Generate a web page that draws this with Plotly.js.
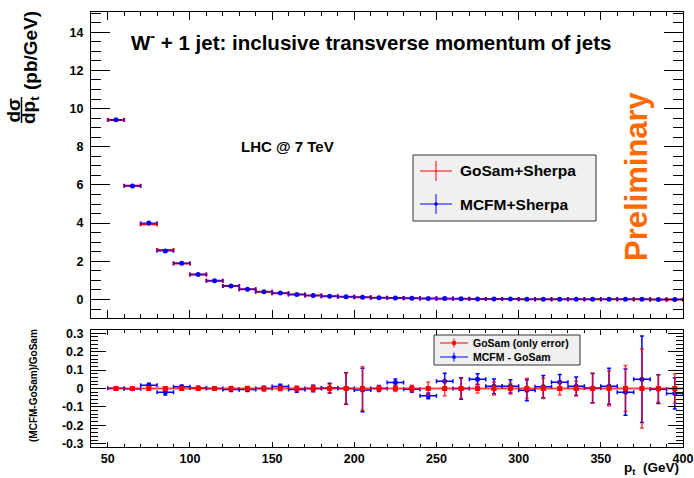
<!DOCTYPE html>
<html>
<head>
<meta charset="utf-8">
<script src="https://cdn.plot.ly/plotly-3.0.1.min.js"></script>
<style>html,body{margin:0;padding:0;background:#fff;}#chart{width:694px;height:478px;}</style>
</head>
<body>
<div id="chart"></div>
<script>
// ---- data ----
const ptBins = [55,65,75,85,95,105,115,125,135,145,155,165,175,185,195,205,215,225,235,245,255,265,275,285,295,305,315,325,335,345,355,365,375,385,395];
const gosamSherpa = [9.40,5.96,3.94,2.59,1.88,1.31,0.98,0.70,0.53,0.40,0.33,0.26,0.21,0.17,0.14,0.115,0.093,0.076,0.062,0.051,0.043,0.036,0.030,0.025,0.021,0.018,0.015,0.013,0.011,0.0094,0.0080,0.0068,0.0058,0.0050,0.0043];
const gosamSherpaErr = [0.03,0.03,0.08,0.04,0.02,0.015,0.012,0.01,0.008,0.006,0.005,0.004,0.004,0.004,0.012,0.014,0.002,0.002,0.002,0.002,0.002,0.002,0.001,0.001,0.001,0.001,0.001,0.001,0.001,0.001,0.001,0.001,0.001,0.001,0.001];
const mcfmSherpa = [9.41,5.95,4.01,2.54,1.90,1.31,0.98,0.70,0.53,0.40,0.334,0.26,0.21,0.17,0.14,0.114,0.093,0.078,0.062,0.049,0.045,0.036,0.0315,0.0253,0.0213,0.0178,0.0152,0.0134,0.0111,0.0094,0.0081,0.0067,0.0061,0.0050,0.0042];
const mcfmSherpaErr = [0.03,0.03,0.04,0.04,0.02,0.015,0.012,0.01,0.008,0.006,0.005,0.004,0.004,0.004,0.012,0.014,0.002,0.002,0.002,0.002,0.002,0.002,0.001,0.001,0.001,0.001,0.001,0.001,0.001,0.001,0.001,0.001,0.001,0.001,0.001];
const gosamRatio = new Array(35).fill(0);
const gosamRatioErr = [0.003,0.004,0.006,0.006,0.007,0.008,0.010,0.011,0.011,0.012,0.012,0.013,0.016,0.025,0.085,0.118,0.015,0.016,0.018,0.035,0.040,0.055,0.025,0.035,0.030,0.055,0.055,0.035,0.040,0.080,0.095,0.125,0.215,0.075,0.080];
const mcfmRatio = [0.001,-0.002,0.018,-0.020,0.010,0.002,0.0,-0.005,-0.005,0.0,0.011,-0.006,0.0,0.002,0.0,-0.008,0.0,0.032,-0.004,-0.040,0.040,0.0,0.050,0.012,0.012,-0.010,0.010,0.034,0.012,0.003,0.012,-0.020,0.050,-0.004,-0.027];
const mcfmRatioErr = [0.004,0.004,0.011,0.015,0.008,0.010,0.010,0.012,0.012,0.012,0.012,0.014,0.018,0.027,0.086,0.118,0.016,0.020,0.016,0.016,0.043,0.058,0.030,0.040,0.036,0.057,0.060,0.042,0.050,0.080,0.098,0.126,0.235,0.078,0.085];
const binHalfWidth = 5;
const topTickVals = [0,2,4,6,8,10,12,14];
const ratioTickVals = [-0.3,-0.2,-0.1,0,0.1,0.2,0.3];
const ratioTickText = ['-0.3','-0.2','-0.1','0','0.1','0.2','0.3'];
const xTickVals = [50,100,150,200,250,300,350,400];

// ---- helpers (pixel -> paper) ----
const L = 91, R = 683, T = 12, B = 447;
const px = x => (x - L) / (R - L);
const py = y => (B - y) / (B - T);
const FONT = 'Liberation Sans, Arial, Helvetica, sans-serif';
const RED = '#ff0000', BLUE = '#0000ff';

const traces = [
  { x: ptBins, y: gosamSherpa, xaxis: 'x', yaxis: 'y', type: 'scatter', mode: 'markers',
    marker: { size: 2, color: RED },
    error_x: { type: 'constant', value: binHalfWidth, color: RED, thickness: 2, width: 2 },
    error_y: { type: 'data', array: gosamSherpaErr, color: RED, thickness: 1.5, width: 0 },
    showlegend: false, name: 'GoSam+Sherpa' },
  { x: ptBins, y: mcfmSherpa, xaxis: 'x', yaxis: 'y', type: 'scatter', mode: 'markers',
    marker: { size: 5, color: BLUE },
    error_x: { type: 'constant', value: binHalfWidth, color: 'rgba(0,0,255,0.7)', thickness: 1.5, width: 2 },
    error_y: { type: 'data', array: mcfmSherpaErr, color: 'rgba(0,0,255,0.7)', thickness: 1.5, width: 0 },
    showlegend: false, name: 'MCFM+Sherpa' },
  { x: ptBins, y: mcfmRatio, xaxis: 'x2', yaxis: 'y2', type: 'scatter', mode: 'markers',
    marker: { size: 5, color: BLUE },
    error_x: { type: 'constant', value: binHalfWidth, color: BLUE, thickness: 1.5, width: 2 },
    error_y: { type: 'data', array: mcfmRatioErr, color: BLUE, thickness: 1.5, width: 2 },
    showlegend: false, name: 'MCFM - GoSam' },
  { x: ptBins, y: gosamRatio, xaxis: 'x2', yaxis: 'y2', type: 'scatter', mode: 'markers',
    marker: { size: 5, symbol: 'square', color: RED },
    error_x: { type: 'constant', value: binHalfWidth, color: 'rgba(255,0,0,0.75)', thickness: 2, width: 0 },
    error_y: { type: 'data', array: gosamRatioErr, color: 'rgba(255,0,0,0.75)', thickness: 1.5, width: 2 },
    showlegend: false, name: 'GoSam (only error)' }
];

const tickFont = { family: FONT, size: 12.5, color: '#000', weight: 'bold' };
const axisCommon = { showline: true, linecolor: '#000', linewidth: 1, mirror: 'allticks',
  ticks: 'inside', tickcolor: '#000', showgrid: false, zeroline: false, tickfont: tickFont };

const layout = {
  width: 694, height: 478,
  margin: { l: L, r: 694 - R, t: T, b: 478 - B, pad: 0 },
  paper_bgcolor: '#fff', plot_bgcolor: '#fff',
  showlegend: false,
  xaxis: Object.assign({}, axisCommon, { domain: [0, 1], range: [39.8, 400], anchor: 'y',
    tickmode: 'array', tickvals: xTickVals, showticklabels: false, ticklen: 8,
    minor: { tickmode: 'linear', tick0: 0, dtick: 10, ticklen: 4, ticks: 'inside', tickcolor: '#000' } }),
  yaxis: Object.assign({}, axisCommon, { domain: [0.297, 1], range: [-0.96, 15.06], anchor: 'x',
    tickmode: 'array', tickvals: topTickVals, ticklen: 19, ticklabelstandoff: 4,
    minor: { tickmode: 'linear', tick0: 0, dtick: 0.5, ticklen: 10, ticks: 'inside', tickcolor: '#000' } }),
  xaxis2: Object.assign({}, axisCommon, { domain: [0, 1], range: [39.8, 400], anchor: 'y2',
    tickmode: 'array', tickvals: xTickVals, ticklen: 5,
    minor: { tickmode: 'linear', tick0: 0, dtick: 10, ticklen: 3, ticks: 'inside', tickcolor: '#000' } }),
  yaxis2: Object.assign({}, axisCommon, { domain: [0, 0.269], range: [-0.318, 0.318], anchor: 'x2',
    tickmode: 'array', tickvals: ratioTickVals, ticktext: ratioTickText, ticklen: 15, ticklabelstandoff: 4,
    minor: { tickmode: 'linear', tick0: 0, dtick: 0.02, ticklen: 7, ticks: 'inside', tickcolor: '#000' } }),
  shapes: [
    // fraction bar of y title
    { type: 'line', xref: 'paper', yref: 'paper', x0: px(21.5), x1: px(21.5), y0: py(97), y1: py(123), line: { color: '#000', width: 1.5 } },
    // top legend
    { type: 'rect', xref: 'paper', yref: 'paper', x0: px(413), x1: px(596), y0: py(155), y1: py(221), fillcolor: '#f0f0f0', line: { color: '#333', width: 1 } },
    { type: 'line', xref: 'paper', yref: 'paper', x0: px(420), x1: px(452), y0: py(171), y1: py(171), line: { color: RED, width: 1 } },
    { type: 'line', xref: 'paper', yref: 'paper', x0: px(436), x1: px(436), y0: py(161), y1: py(181), line: { color: RED, width: 1 } },
    { type: 'line', xref: 'paper', yref: 'paper', x0: px(420), x1: px(452), y0: py(204), y1: py(204), line: { color: BLUE, width: 1 } },
    { type: 'line', xref: 'paper', yref: 'paper', x0: px(436), x1: px(436), y0: py(194), y1: py(214), line: { color: BLUE, width: 1 } },
    { type: 'circle', xref: 'paper', yref: 'paper', x0: px(434.5), x1: px(437.5), y0: py(202.5), y1: py(205.5), fillcolor: BLUE, line: { color: BLUE, width: 0.5 } },
    // lower legend
    { type: 'rect', xref: 'paper', yref: 'paper', x0: px(434), x1: px(580), y0: py(335), y1: py(365), fillcolor: '#f0f0f0', line: { color: '#333', width: 1 } },
    { type: 'line', xref: 'paper', yref: 'paper', x0: px(440), x1: px(468), y0: py(343), y1: py(343), line: { color: RED, width: 1 } },
    { type: 'line', xref: 'paper', yref: 'paper', x0: px(454), x1: px(454), y0: py(338.5), y1: py(347.5), line: { color: RED, width: 1 } },
    { type: 'rect', xref: 'paper', yref: 'paper', x0: px(452.3), x1: px(455.7), y0: py(341.3), y1: py(344.7), fillcolor: RED, line: { color: RED, width: 0.5 } },
    { type: 'line', xref: 'paper', yref: 'paper', x0: px(440), x1: px(468), y0: py(357), y1: py(357), line: { color: BLUE, width: 1 } },
    { type: 'line', xref: 'paper', yref: 'paper', x0: px(454), x1: px(454), y0: py(352.5), y1: py(361.5), line: { color: BLUE, width: 1 } },
    { type: 'circle', xref: 'paper', yref: 'paper', x0: px(452.3), x1: px(455.7), y0: py(355.3), y1: py(358.7), fillcolor: BLUE, line: { color: BLUE, width: 0.5 } }
  ],
  annotations: [
    { xref: 'paper', yref: 'paper', x: px(129), y: py(41), xanchor: 'left', yanchor: 'middle', showarrow: false,
      text: 'W<sup>-</sup> + 1 jet: inclusive transverse momentum of jets', font: { family: FONT, size: 20.5, weight: 'bold', color: '#000' } },
    { xref: 'paper', yref: 'paper', x: px(239), y: py(146), xanchor: 'left', yanchor: 'middle', showarrow: false,
      text: 'LHC @ 7 TeV', font: { family: FONT, size: 15, weight: 'bold', color: '#000' } },
    { xref: 'paper', yref: 'paper', x: px(636), y: py(176), xanchor: 'center', yanchor: 'middle', showarrow: false, textangle: -90,
      text: 'Preliminary', font: { family: FONT, size: 31, weight: 'bold', color: '#ff6a00' } },
    // y title top
    { xref: 'paper', yref: 'paper', x: px(31), y: py(51), xanchor: 'center', yanchor: 'middle', showarrow: false, textangle: -90,
      text: '(pb/GeV)', font: { family: FONT, size: 19, weight: 'bold', color: '#000' } },
    { xref: 'paper', yref: 'paper', x: px(13.5), y: py(110), xanchor: 'center', yanchor: 'middle', showarrow: false, textangle: -90,
      text: 'dσ', font: { family: FONT, size: 19, weight: 'bold', color: '#000' } },
    { xref: 'paper', yref: 'paper', x: px(30), y: py(110), xanchor: 'center', yanchor: 'middle', showarrow: false, textangle: -90,
      text: 'dp<sub>t</sub>', font: { family: FONT, size: 19, weight: 'bold', color: '#000' } },
    // y title bottom
    { xref: 'paper', yref: 'paper', x: px(33), y: py(386), xanchor: 'center', yanchor: 'middle', showarrow: false, textangle: -90,
      text: '(MCFM-GoSam)/GoSam', font: { family: FONT, size: 10, weight: 'bold', color: '#000' } },
    // x title
    { xref: 'paper', yref: 'paper', x: px(681), y: py(468), xanchor: 'right', yanchor: 'middle', showarrow: false,
      text: 'p<sub>t</sub>  (GeV)', font: { family: FONT, size: 13.5, weight: 'bold', color: '#000' } },
    // top legend text
    { xref: 'paper', yref: 'paper', x: px(458), y: py(171), xanchor: 'left', yanchor: 'middle', showarrow: false,
      text: 'GoSam+Sherpa', font: { family: FONT, size: 15.5, weight: 'bold', color: '#000' } },
    { xref: 'paper', yref: 'paper', x: px(458), y: py(204), xanchor: 'left', yanchor: 'middle', showarrow: false,
      text: 'MCFM+Sherpa', font: { family: FONT, size: 15.5, weight: 'bold', color: '#000' } },
    // lower legend text
    { xref: 'paper', yref: 'paper', x: px(471), y: py(343), xanchor: 'left', yanchor: 'middle', showarrow: false,
      text: 'GoSam (only error)', font: { family: FONT, size: 10.5, weight: 'bold', color: '#000' } },
    { xref: 'paper', yref: 'paper', x: px(471), y: py(357), xanchor: 'left', yanchor: 'middle', showarrow: false,
      text: 'MCFM - GoSam', font: { family: FONT, size: 10.5, weight: 'bold', color: '#000' } }
  ]
};

Plotly.newPlot('chart', traces, layout, { displayModeBar: false, staticPlot: true });
</script>
</body>
</html>
